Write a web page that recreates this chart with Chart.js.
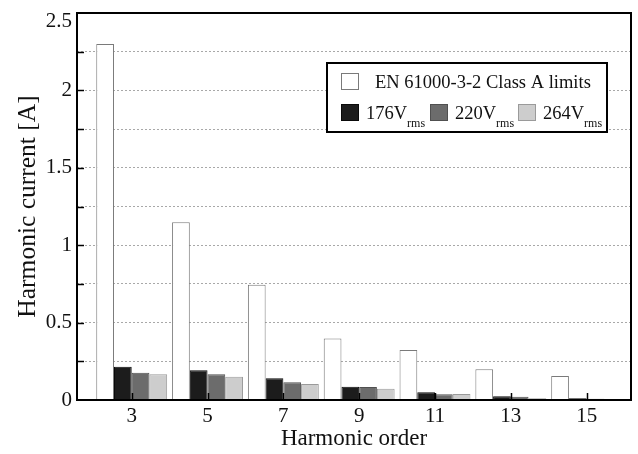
<!DOCTYPE html>
<html><head><meta charset="utf-8">
<style>html,body{margin:0;padding:0;background:#fff;} #wrap{width:638px;height:454px;position:relative;}</style>
<script src="https://cdn.jsdelivr.net/npm/chart.js@4.4.1/dist/chart.umd.min.js"></script>
</head><body><div id="wrap"><canvas id="c"></canvas></div>
<script>
const harmonicOrders = [3, 5, 7, 9, 11, 13, 15];
const classALimits = [2.30, 1.148, 0.745, 0.398, 0.323, 0.198, 0.155];
const current176 = [0.215, 0.192, 0.140, 0.086, 0.050, 0.024, 0.011];
const current220 = [0.176, 0.166, 0.114, 0.084, 0.037, 0.021, 0.008];
const current264 = [0.166, 0.151, 0.103, 0.073, 0.039, 0.011, 0.007];
const seriesNames = ['176V', '220V', '264V'];
const seriesSub = 'rms';
const limitName = 'EN 61000-3-2 Class A limits';
const yTickLabels = [0, 0.5, 1, 1.5, 2, 2.5];

const FONT = '"Liberation Serif", "Times New Roman", serif';
const fills = ['#ffffff', '#1c1c1c', '#6c6c6c', '#cdcdcd'];
const borders = ['#7a7a7a', '#0a0a0a', '#505050', '#9a9a9a'];
const seriesData = [classALimits, current176, current220, current264];
const labels = [limitName].concat(seriesNames.map(s => s + seriesSub));

const framePlugin = {
  id: 'frame',
  afterDatasetsDraw(chart) {
    const {ctx, chartArea: a, scales} = chart;
    ctx.save();
    ctx.strokeStyle = '#000';
    ctx.lineWidth = 1.5;
    for (let v = 0.25; v < 2.5; v += 0.25) {
      const y = Math.round(scales.y.getPixelForValue(v)) + 0.5;
      ctx.beginPath(); ctx.moveTo(a.left, y); ctx.lineTo(a.left + 7, y); ctx.stroke();
    }
    harmonicOrders.forEach(o => {
      const x = Math.round(scales.x.getPixelForValue(o)) + 0.5;
      ctx.beginPath(); ctx.moveTo(x, a.bottom); ctx.lineTo(x, a.bottom - 7); ctx.stroke();
    });
    ctx.lineWidth = 2;
    ctx.strokeRect(a.left, a.top, a.right - a.left, a.bottom - a.top);
    const L = 327, T = 63, R = 607, B = 132;
    ctx.fillStyle = '#fff';
    ctx.fillRect(L, T, R - L, B - T);
    ctx.lineWidth = 2;
    ctx.strokeStyle = '#000';
    ctx.strokeRect(L, T, R - L, B - T);
    const box = (x, y, i) => {
      ctx.fillStyle = fills[i]; ctx.fillRect(x, y, 18, 17);
      ctx.lineWidth = 1; ctx.strokeStyle = borders[i];
      ctx.strokeRect(x + 0.5, y + 0.5, 17, 16);
    };
    box(341, 73, 0);
    ctx.fillStyle = '#111';
    ctx.textBaseline = 'alphabetic';
    ctx.textAlign = 'left';
    ctx.font = '18.5px ' + FONT;
    ctx.fillText(limitName, 375, 87.5);
    const boxX = [341, 430, 518];
    seriesNames.forEach((s, i) => {
      box(boxX[i], 104, i + 1);
      ctx.fillStyle = '#111';
      ctx.font = '18.5px ' + FONT;
      const tx = boxX[i] + 25;
      ctx.fillText(s, tx, 118.5);
      const w = ctx.measureText(s).width;
      ctx.font = '12px ' + FONT;
      ctx.fillText(seriesSub, tx + w, 126.5);
    });
    ctx.restore();
  }
};

new Chart(document.getElementById('c'), {
  type: 'bar',
  data: {
    labels: harmonicOrders,
    datasets: seriesData.map((d, i) => ({
      label: labels[i],
      data: d,
      backgroundColor: fills[i],
      borderColor: borders[i],
      borderWidth: 1,
      borderSkipped: 'bottom',
      categoryPercentage: 0.935,
      barPercentage: 1.0
    }))
  },
  options: {
    responsive: true,
    maintainAspectRatio: false,
    animation: false,
    layout: {padding: {left: 0, right: 7, top: 13, bottom: 0}},
    plugins: {legend: {display: false}, tooltip: {enabled: false}},
    scales: {
      x: {
        type: 'linear',
        offset: false,
        min: 1.557,
        max: 16.17,
        afterBuildTicks(scale) { scale.ticks = harmonicOrders.map(v => ({value: v})); },
        afterFit(scale) { scale.height = 54; scale.paddingLeft = 0; scale.paddingRight = 0; },
        grid: {display: false, drawTicks: false},
        border: {display: false},
        ticks: {
          color: '#111', padding: 4,
          font: {family: FONT, size: 21},
          autoSkip: false, maxRotation: 0,
          callback: v => String(v)
        },
        title: {display: true, text: 'Harmonic order', color: '#111', font: {family: FONT, size: 23}, padding: {top: 0, bottom: 1}}
      },
      y: {
        min: 0, max: 2.5,
        afterFit(scale) { scale.width = 77; scale.paddingTop = 0; scale.paddingBottom = 0; },
        afterBuildTicks(scale) {
          const t = [];
          for (let i = 0; i <= 10; i++) t.push({value: i * 0.25});
          scale.ticks = t;
        },
        grid: {color: '#a8a8a8', lineWidth: 1, drawTicks: false},
        border: {display: false, dash: [2, 2]},
        ticks: {
          color: '#111', padding: 5, autoSkip: false,
          font: {family: FONT, size: 21, lineHeight: 0.8},
          callback: function (v) {
            const lbl = yTickLabels.find(t => Math.abs(t - v) < 1e-6);
            if (lbl === undefined) return '';
            if (lbl === 2.5) return ['', '2.5'];
            return String(lbl);
          }
        },
        title: {display: true, text: 'Harmonic current [A]', color: '#111', font: {family: FONT, size: 25.5}, padding: {top: 13, bottom: 0}}
      }
    }
  },
  plugins: [framePlugin]
});
</script>
</body></html>
